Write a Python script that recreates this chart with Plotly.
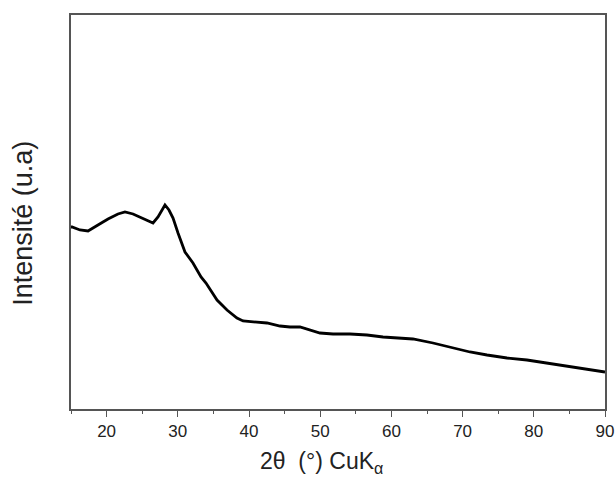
import plotly.graph_objects as go

two_theta = [15.0, 15.14, 16.26, 17.39, 18.79, 20.20, 21.60, 22.58, 23.71, 24.69,
             25.81, 26.52, 27.22, 27.92, 28.20, 28.76, 29.33, 30.03, 31.01, 32.13,
             33.26, 33.96, 35.51, 36.91, 38.31, 39.16, 40.56, 42.53, 44.35, 45.76,
             47.16, 48.57, 49.97, 51.80, 54.19, 56.57, 58.82, 60.93, 63.03, 65.84,
             68.65, 71.04, 73.43, 76.24, 79.04, 81.85, 84.66, 87.47, 89.72, 90.0]
intensity = [182, 182, 179, 178, 184, 190, 195, 197, 195, 192,
             188, 186, 192, 201, 204, 199, 191, 176, 157, 146,
             132, 126, 109, 99, 91, 88, 87, 86, 83, 82,
             82, 79, 76, 75, 75, 74, 72, 71, 70, 66,
             61, 57, 54, 51, 49, 46, 43, 40, 37, 37]

x_ticks = [20, 30, 40, 50, 60, 70, 80, 90]
x_tick_labels = ["20", "30", "40", "50", "60", "70", "80", "90"]

fig = go.Figure()
fig.add_trace(go.Scatter(x=two_theta, y=intensity, mode="lines",
                         line=dict(color="black", width=2.8), showlegend=False))

axis_col = "#555555"
fig.update_layout(
    width=615, height=484,
    margin=dict(l=71, r=10, t=15, b=75),
    paper_bgcolor="white", plot_bgcolor="white",
    font=dict(family="Liberation Sans, Arial, sans-serif", color="#222222"),
    xaxis=dict(range=[15, 90], tickvals=x_ticks, ticktext=x_tick_labels,
               automargin=False,
               ticks="outside", ticklen=6, tickwidth=1, tickcolor=axis_col,
               showline=True, linecolor=axis_col, linewidth=2, mirror=True,
               showgrid=False, zeroline=False, tickfont=dict(size=17),
               minor=dict(ticks="outside", ticklen=3, tickwidth=1, tickcolor=axis_col,
                          tick0=15, dtick=5, showgrid=False)),
    yaxis=dict(range=[0, 394], showticklabels=False, ticks="", automargin=False,
               showline=True, linecolor=axis_col, linewidth=2, mirror=True,
               showgrid=False, zeroline=False),
    annotations=[
        dict(text="Intensité (u.a)", xref="paper", yref="paper", x=0, y=0.47,
             xshift=-48, textangle=-90, showarrow=False, font=dict(size=27),
             xanchor="center", yanchor="middle"),
        dict(text="2θ  (°) CuK<sub>α</sub>", xref="paper", yref="paper", x=0.47, y=-0.135,
             showarrow=False, font=dict(size=23), xanchor="center", yanchor="middle"),
    ],
)

fig.write_html(
    "out.html",
    config={"displayModeBar": False},
    post_script="document.body.style.margin='0';document.body.style.overflow='hidden';",
)
